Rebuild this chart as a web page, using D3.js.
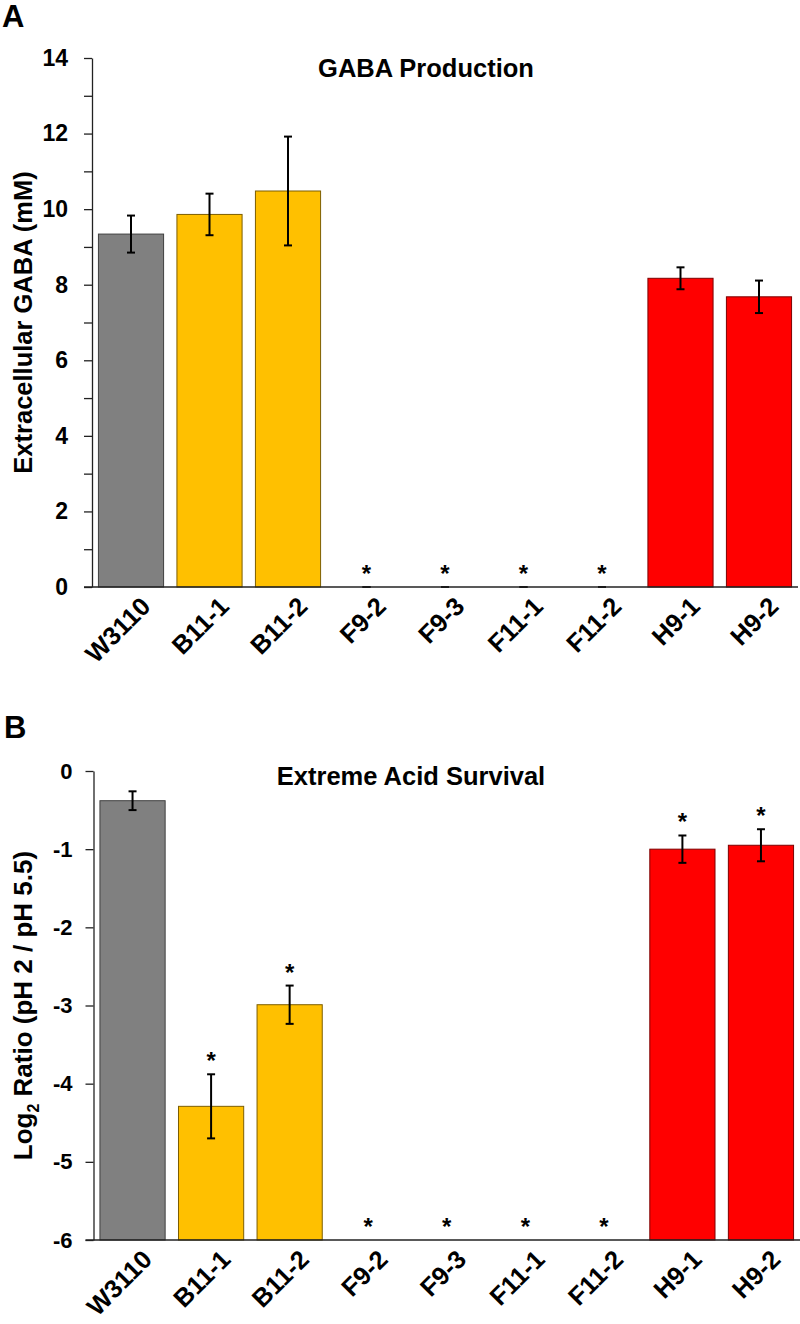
<!DOCTYPE html>
<html>
<head>
<meta charset="utf-8">
<script src="https://cdn.jsdelivr.net/npm/d3@7"></script>
<style>
  body { margin: 0; background: #fff; }
  svg { font-family: "Liberation Sans", Arial, sans-serif; font-weight: bold; }
</style>
</head>
<body>
<svg width="800" height="1324"></svg>
<script>
// strains and their colour groups
const categories = ["W3110", "B11-1", "B11-2", "F9-2", "F9-3", "F11-1", "F11-2", "H9-1", "H9-2"];
const groups = ["wt", "B", "B", "F", "F", "F", "F", "H", "H"];

// panel A: extracellular GABA (mM)
const gabaMean = [9.34, 9.86, 10.48, 0, 0, 0, 0, 8.17, 7.68];
const gabaErr = [0.49, 0.55, 1.44, 0, 0, 0, 0, 0.29, 0.43];
const gabaSig = [false, false, false, true, true, true, true, false, false];

// panel B: log2 ratio pH 2 / pH 5.5 (null = nothing survived)
const acidMean = [-0.38, -4.29, -2.99, null, null, null, null, -1.00, -0.95];
const acidErr = [0.12, 0.41, 0.245, null, null, null, null, 0.175, 0.205];
const acidSig = [false, true, true, true, true, true, true, true, true];

const gabaTicks = d3.range(0, 15, 1);
const acidTicks = d3.range(-6, 1, 1);

const color = d3.scaleOrdinal()
  .domain(["wt", "B", "F", "H"])
  .range(["#808080", "#FFC000", "#FFC000", "#FF0000"]);

const svg = d3.select("svg");

function panel(opts) {
  const g = svg.append("g");
  const x = d3.scaleBand()
    .domain(categories)
    .range(opts.xRange)
    .paddingInner(0.17)
    .paddingOuter(0.082);
  const y = d3.scaleLinear().domain(opts.yDomain).range(opts.yRange);
  const base = opts.yDomain[0];

  const rows = categories.map((c, i) => ({
    name: c, group: groups[i], mean: opts.mean[i], err: opts.err[i], sig: opts.sig[i]
  }));

  // bars
  g.append("g")
    .selectAll("rect")
    .data(rows.filter(d => d.mean !== null && d.mean !== base))
    .join("rect")
    .attr("x", d => x(d.name))
    .attr("width", x.bandwidth())
    .attr("y", d => y(d.mean))
    .attr("height", d => y(base) - y(d.mean))
    .attr("fill", d => color(d.group))
    .attr("stroke", d => d3.color(color(d.group)).darker(2))
    .attr("stroke-width", 1);

  // error bars
  const eb = g.append("g")
    .attr("stroke", "#000")
    .attr("stroke-width", 2)
    .selectAll("g")
    .data(rows.filter(d => d.err !== null))
    .join("g")
    .attr("transform", d => `translate(${x(d.name) + x.bandwidth() / 2},0)`);
  eb.append("line")
    .attr("y1", d => y(d.mean - d.err))
    .attr("y2", d => y(d.mean + d.err));
  eb.append("line")
    .attr("x1", -4).attr("x2", 4)
    .attr("y1", d => y(d.mean + d.err)).attr("y2", d => y(d.mean + d.err));
  eb.append("line")
    .attr("x1", -4).attr("x2", 4)
    .attr("y1", d => y(d.mean - d.err)).attr("y2", d => y(d.mean - d.err));

  // significance stars
  g.append("g")
    .selectAll("text")
    .data(rows.filter(d => d.sig))
    .join("text")
    .attr("x", d => x(d.name) + x.bandwidth() / 2)
    .attr("y", d => (d.mean === null ? y(base) : y(d.mean + d.err)) - 5)
    .attr("text-anchor", "middle")
    .attr("font-size", 24)
    .text("*");

  // y axis
  const yAxis = g.append("g")
    .attr("transform", `translate(${opts.xRange[0]},0)`)
    .call(d3.axisLeft(y)
      .tickValues(opts.ticks)
      .tickFormat(opts.tickFormat)
      .tickSize(8)
      .tickSizeOuter(0)
      .tickPadding(opts.tickPadding));
  yAxis.attr("font-family", null);
  yAxis.selectAll("text").attr("font-size", opts.tickFont).attr("fill", "#000");
  yAxis.selectAll("line, path").attr("stroke", "#222").attr("stroke-width", 1.3);

  // x axis
  const xAxis = g.append("g")
    .attr("transform", `translate(0,${y(base)})`)
    .call(d3.axisBottom(x).tickSize(0).tickPadding(0));
  xAxis.attr("font-family", null);
  xAxis.select(".domain")
    .attr("d", `M${opts.xRange[0] - 8},0H${opts.xRange[1]}`)
    .attr("stroke", "#222").attr("stroke-width", 1.3);
  xAxis.selectAll("text")
    .attr("font-size", 25.5)
    .attr("fill", "#000")
    .attr("text-anchor", "end")
    .attr("dy", null)
    .attr("y", 0)
    .attr("transform", "translate(21,21) rotate(-45)");

  // title
  g.append("text")
    .attr("x", opts.title.x)
    .attr("y", opts.title.y)
    .attr("text-anchor", "middle")
    .attr("font-size", 25.5)
    .text(opts.title.text);

  // panel letter
  g.append("text")
    .attr("x", opts.letter.x)
    .attr("y", opts.letter.y)
    .attr("font-size", 31)
    .text(opts.letter.text);

  // y label
  const yl = g.append("text")
    .attr("transform", `translate(32,${(opts.yRange[0] + opts.yRange[1]) / 2}) rotate(-90)`)
    .attr("text-anchor", "middle")
    .attr("font-size", opts.labelFont);
  opts.yLabel(yl);
}

panel({
  xRange: [92, 798],
  yDomain: [0, 14],
  yRange: [587, 58],
  mean: gabaMean, err: gabaErr, sig: gabaSig,
  ticks: gabaTicks,
  tickFormat: d => (d % 2 === 0 ? String(d) : ""),
  tickPadding: 16,
  tickFont: 23,
  labelFont: 25.5,
  title: { text: "GABA Production", x: 426, y: 77 },
  letter: { text: "A", x: 2, y: 27 },
  yLabel: t => t.text("Extracellular GABA (mM)")
});

panel({
  xRange: [93.5, 800],
  yDomain: [-6, 0],
  yRange: [1240, 771],
  mean: acidMean, err: acidErr, sig: acidSig,
  ticks: acidTicks,
  tickFormat: d => String(d),
  tickPadding: 13,
  tickFont: 22,
  labelFont: 26,
  title: { text: "Extreme Acid Survival", x: 411, y: 785 },
  letter: { text: "B", x: 4, y: 738 },
  yLabel: t => {
    t.append("tspan").text("Log");
    t.append("tspan").attr("font-size", 16).attr("dy", 7).text("2");
    t.append("tspan").attr("dy", -7).text(" Ratio (pH 2 / pH 5.5)");
  }
});
</script>
</body>
</html>
